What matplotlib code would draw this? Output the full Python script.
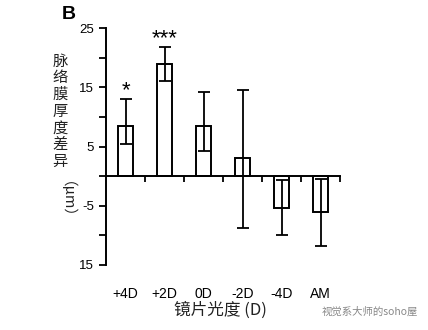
import matplotlib
matplotlib.use("Agg")
import matplotlib.pyplot as plt
import numpy as np

plt.rcParams['font.family'] = ['Liberation Sans', 'Noto Sans CJK SC', 'DejaVu Sans']

# lens power groups and choroidal thickness change (um)
groups = ["+4D", "+2D", "0D", "-2D", "-4D", "AM"]
means = [8.5, 19.0, 8.4, 3.0, -5.4, -6.1]
err_low = [5.5, 16.0, 4.2, -8.7, -10.0, -11.8]
err_high = [13.0, 21.8, 14.2, 14.6, -0.7, -0.5]
stars = ["*", "***", "", "", "", ""]

ytick_vals = [25, 15, 5, -5, -15]
ytick_text = ["25", "15", "5", "-5", "15"]

fig = plt.figure(figsize=(4.28, 3.30), dpi=100)
ax = fig.add_axes([0.2477, 0.197, 0.547, 0.718])

x = np.arange(len(groups))
m = np.array(means)
yerr = np.vstack([m - np.array(err_low), np.array(err_high) - m])

ax.bar(x, m, width=0.4, color="white", edgecolor="black", linewidth=1.4, zorder=2)
ax.errorbar(x, m, yerr=yerr, fmt="none", ecolor="black", elinewidth=1.3,
            capsize=4.5, capthick=1.3, zorder=3)

for xi, top, s in zip(x, err_high, stars):
    if s:
        ax.text(xi, top - 0.4, s, ha="center", va="bottom", fontsize=16)

ax.set_xlim(-0.5, 5.5)
ax.set_ylim(-15, 25)

for side in ["top", "right"]:
    ax.spines[side].set_visible(False)
ax.spines["left"].set_linewidth(1.4)
ax.spines["bottom"].set_position(("data", 0))
ax.spines["bottom"].set_linewidth(1.4)

ax.set_yticks(ytick_vals)
ax.set_yticklabels(ytick_text, fontsize=9.5)
ax.set_yticks([20, 10, 0, -10], minor=True)
ax.tick_params(axis="y", which="both", direction="out", length=5, width=1.3)

ax.set_xticks(np.arange(0.5, 6, 1))
ax.set_xticklabels([])
ax.tick_params(axis="x", direction="out", length=4, width=1.3)

for xi, g in zip(x, groups):
    ax.text(xi, -0.095, g, transform=ax.get_xaxis_transform(),
            ha="center", va="top", fontsize=10)

fig.text(0.515, 0.033, "镜片光度 (D)", ha="center", va="bottom", fontsize=12,
         family=['Noto Sans CJK SC', 'DejaVu Sans'], color="#222222")

# vertical stacked y label
ylab = "脉络膜厚度差异"
for i, ch in enumerate(ylab):
    fig.text(0.140, 1 - (61 + i * 16.7) / 330, ch, ha="center", va="center",
             fontsize=11, family=['Noto Sans CJK SC', 'DejaVu Sans'], color="#222222")
fig.text(0.140, 1 - 207 / 330, "（μm）", ha="center", va="center", rotation=-90,
         fontsize=10.5, family=['Noto Sans CJK SC', 'DejaVu Sans'], color="#222222")

fig.text(0.144, 0.955, "B", ha="left", va="center", fontsize=14, fontweight="bold")

fig.text(0.752, 0.055, "视觉系大师的soho屋", ha="left", va="center", fontsize=7.5,
         family=['Noto Sans CJK SC', 'DejaVu Sans'], color="#888888")

fig.savefig("out.png", dpi=100)
